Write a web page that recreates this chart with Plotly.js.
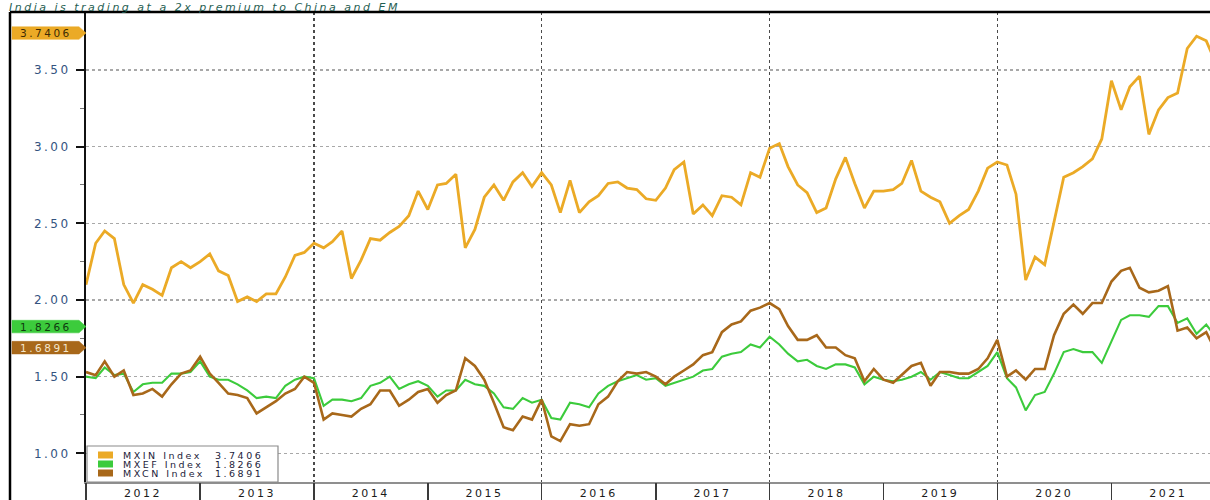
<!DOCTYPE html>
<html><head><meta charset="utf-8">
<script src="https://cdn.plot.ly/plotly-3.0.1.min.js"></script>
<style>
html,body{margin:0;padding:0;background:#fff;overflow:hidden;}
#chart{width:1210px;height:500px;}
text{letter-spacing:2.5px;}
</style></head><body><div id="chart"></div>
<script>
// ---- data (monthly, first point = Jan 2012) ----
const startYear = 2012;
const mxin = [
 2.10,2.37,2.45,2.40,2.10,1.98,2.10,2.07,2.03,2.21,2.25,2.21,
 2.25,2.30,2.19,2.16,1.99,2.02,1.99,2.04,2.04,2.15,2.29,2.31,
 2.37,2.34,2.38,2.45,2.14,2.26,2.40,2.39,2.44,2.48,2.55,2.71,
 2.59,2.75,2.76,2.82,2.34,2.46,2.67,2.75,2.65,2.77,2.83,2.74,
 2.83,2.75,2.57,2.78,2.57,2.64,2.68,2.76,2.77,2.73,2.72,2.66,
 2.65,2.73,2.85,2.90,2.56,2.62,2.55,2.68,2.67,2.62,2.83,2.80,
 2.99,3.02,2.87,2.75,2.70,2.57,2.60,2.79,2.93,2.76,2.60,2.71,
 2.71,2.72,2.76,2.91,2.71,2.67,2.64,2.50,2.55,2.59,2.71,2.86,
 2.90,2.88,2.69,2.13,2.28,2.23,2.51,2.80,2.83,2.87,2.92,3.05,
 3.43,3.24,3.39,3.46,3.08,3.24,3.32,3.35,3.64,3.72,3.69,3.55
];
const mxef = [
 1.50,1.49,1.56,1.51,1.52,1.40,1.45,1.46,1.46,1.52,1.52,1.53,
 1.60,1.50,1.48,1.48,1.45,1.41,1.36,1.37,1.36,1.44,1.48,1.50,
 1.49,1.31,1.35,1.35,1.34,1.36,1.44,1.46,1.50,1.42,1.45,1.47,
 1.44,1.37,1.41,1.41,1.48,1.45,1.44,1.39,1.30,1.29,1.36,1.33,
 1.35,1.23,1.22,1.33,1.32,1.30,1.39,1.44,1.47,1.49,1.51,1.48,
 1.49,1.44,1.46,1.48,1.50,1.54,1.55,1.63,1.65,1.66,1.71,1.69,
 1.76,1.71,1.65,1.60,1.61,1.57,1.55,1.58,1.58,1.56,1.45,1.50,
 1.48,1.47,1.48,1.50,1.53,1.48,1.53,1.51,1.49,1.49,1.53,1.57,
 1.66,1.49,1.43,1.28,1.38,1.40,1.52,1.66,1.68,1.66,1.66,1.59,
 1.73,1.87,1.90,1.90,1.89,1.96,1.96,1.85,1.88,1.78,1.84,1.76
];
const mxcn = [
 1.53,1.51,1.60,1.50,1.54,1.38,1.39,1.42,1.37,1.45,1.52,1.54,
 1.63,1.52,1.46,1.39,1.38,1.36,1.26,1.30,1.34,1.39,1.42,1.50,
 1.46,1.22,1.26,1.25,1.24,1.29,1.32,1.41,1.41,1.31,1.35,1.40,
 1.42,1.33,1.38,1.41,1.62,1.57,1.48,1.33,1.17,1.15,1.24,1.22,
 1.35,1.11,1.08,1.19,1.18,1.19,1.32,1.37,1.47,1.53,1.52,1.53,
 1.50,1.45,1.50,1.54,1.58,1.64,1.66,1.79,1.84,1.86,1.93,1.95,
 1.98,1.94,1.83,1.74,1.74,1.77,1.69,1.69,1.64,1.62,1.47,1.55,
 1.48,1.46,1.51,1.57,1.59,1.44,1.53,1.53,1.52,1.52,1.55,1.62,
 1.74,1.50,1.54,1.48,1.55,1.55,1.77,1.91,1.97,1.91,1.98,1.98,
 2.12,2.19,2.21,2.08,2.05,2.06,2.09,1.80,1.82,1.75,1.79,1.67
];
const seriesNames = ['MXIN Index','MXEF Index','MXCN Index'];
const lastValues = ['3.7406','1.8266','1.6891'];
const seriesColors = ['#EBAA26','#3CCB3C','#A8681A'];
const tagTextColors = ['#3b2a05','#0f3a0f','#f4e6cc'];
const yTicks = [1.00,1.50,2.00,2.50,3.00,3.50];
const yearLabels = ['2012','2013','2014','2015','2016','2017','2018','2019','2020','2021'];
const gridYears = ['2014','2016','2018','2020'];
const titleText = 'India is trading at a 2x premium to China and EM';

// ---- helpers ----
function monthDates(y0, n){
  const out=[];
  for(let i=0;i<n;i++){
    const y=y0+Math.floor(i/12), m=(i%12)+1;
    out.push(y+'-'+(m<10?'0':'')+m+'-01');
  }
  return out;
}
const dates = monthDates(startYear, mxin.length);
const L=86, W=1124, T=12, H=470;
const pxX = px => (px-L)/W;
const pxY = py => (T+H-py)/H;
const xRange = ['2012-01-01','2021-11-13'];
const yRange = [0.813, 3.878];
const unitsPerPx = (yRange[1]-yRange[0])/H;

const seriesData = [mxin, mxef, mxcn];
const widths = [2.8, 2.1, 2.6];
const traces = seriesData.map((d,i)=>({
  x: dates, y: d, type:'scatter', mode:'lines', name: seriesNames[i],
  line:{color:seriesColors[i], width:widths[i]}, hoverinfo:'skip', showlegend:false
}));
// empty helper traces so the overlaid separator / grid axes get drawn
traces.unshift({x:[], y:[], type:'scatter', mode:'lines', xaxis:'x3', yaxis:'y', hoverinfo:'skip', showlegend:false});
traces.unshift({x:[], y:[], type:'scatter', mode:'lines', xaxis:'x2', yaxis:'y', hoverinfo:'skip', showlegend:false});

const shapes = [];
const annotations = [];
const FONT = 'DejaVu Sans';

// frame lines
shapes.push({type:'line', xref:'paper', yref:'paper', x0:pxX(10), x1:pxX(10), y0:pxY(500), y1:1, line:{color:'#000', width:2.5}});
shapes.push({type:'line', xref:'paper', yref:'paper', x0:pxX(10), x1:1, y0:1, y1:1, line:{color:'#000', width:2.5}});

// value tags at left
const hh = 6.3*unitsPerPx;
lastValues.forEach((v,i)=>{
  const val = parseFloat(v);
  const a = pxX(12), b = pxX(79), c = 0;
  shapes.push({type:'path', xref:'paper', yref:'y', layer:'above',
    path:`M ${a},${val+hh} L ${b},${val+hh} L ${c},${val} L ${b},${val-hh} L ${a},${val-hh} Z`,
    fillcolor: seriesColors[i], line:{color: seriesColors[i], width:0.5}});
  annotations.push({xref:'paper', yref:'y', x:pxX(46), y:val, text:v, showarrow:false,
    xanchor:'center', yanchor:'middle', font:{family:FONT, size:10.5, color:tagTextColors[i]}});
});

// legend box (manual, squared swatches)
shapes.push({type:'rect', xref:'paper', yref:'paper', x0:pxX(87), x1:pxX(278), y0:pxY(482), y1:pxY(446),
  fillcolor:'#fff', line:{color:'#8a8a8a', width:1.2}, layer:'above'});
const rowY = [455, 464, 473];
seriesNames.forEach((n,i)=>{
  shapes.push({type:'rect', xref:'paper', yref:'paper', x0:pxX(98), x1:pxX(113), y0:pxY(rowY[i]+3.5), y1:pxY(rowY[i]-3.5),
    fillcolor:seriesColors[i], line:{width:0}, layer:'above'});
  annotations.push({xref:'paper', yref:'paper', x:pxX(121), y:pxY(rowY[i]), text:n, showarrow:false,
    xanchor:'left', yanchor:'middle', font:{family:FONT, size:9.5, color:'#1c1c3a'}});
  annotations.push({xref:'paper', yref:'paper', x:pxX(213), y:pxY(rowY[i]), text:lastValues[i], showarrow:false,
    xanchor:'left', yanchor:'middle', font:{family:FONT, size:9.5, color:'#1c1c3a'}});
});

// title in the strip above the frame
annotations.push({xref:'paper', yref:'paper', x:pxX(8), y:pxY(0), text:titleText, showarrow:false,
  xanchor:'left', yanchor:'top', borderpad:0,
  font:{family:FONT, size:11, style:'italic', color:'#1f5e52'}});

const layout = {
  width:1210, height:500,
  margin:{l:L, r:0, t:T, b:500-T-H},
  paper_bgcolor:'#fff', plot_bgcolor:'#fff',
  showlegend:false,
  xaxis:{type:'date', range:xRange, tickmode:'array',
    tickvals: yearLabels.map(y=>y+'-07-02'), ticktext: yearLabels,
    ticks:'', ticklabelstandoff:0, showgrid:false, zeroline:false,
    showline:true, linecolor:'#8f8f8f', linewidth:2,
    tickfont:{family:FONT, size:11, color:'#1a1a1a'}, fixedrange:true},
  xaxis2:{type:'date', range:xRange, overlaying:'x', anchor:'y', side:'bottom',
    tickmode:'array', tickvals: yearLabels.map(y=>y+'-01-01'),
    ticks:'outside', ticklen:20, tickwidth:1.5, tickcolor:'#3a3a3a',
    showticklabels:false, showgrid:false, zeroline:false, showline:false, fixedrange:true},
  xaxis3:{type:'date', range:xRange, overlaying:'x', anchor:'y', side:'bottom',
    tickmode:'array', tickvals: gridYears.map(y=>y+'-01-01'),
    ticks:'', showticklabels:false, showgrid:true, gridcolor:'#4a4a4a', griddash:'dot', gridwidth:1.5,
    zeroline:false, showline:false, fixedrange:true},
  yaxis:{range:yRange, tickmode:'array', tickvals:yTicks, ticktext:yTicks.map(v=>v.toFixed(2)),
    ticks:'outside', ticklen:8, tickwidth:2, tickcolor:'#111',
    showline:true, linecolor:'#111', linewidth:2,
    showgrid:true, gridcolor:'#a8a8a8', griddash:'3px,3px', gridwidth:1.5, zeroline:false,
    ticklabelstandoff:3,
    tickfont:{family:FONT, size:12, color:'#34537f'},
    minor:{dtick:0.25, tick0:0, ticks:'outside', ticklen:4, tickwidth:1, tickcolor:'#777', showgrid:false},
    fixedrange:true},
  shapes: shapes,
  annotations: annotations
};

Plotly.newPlot('chart', traces, layout, {displayModeBar:false, staticPlot:true});
</script></body></html>
